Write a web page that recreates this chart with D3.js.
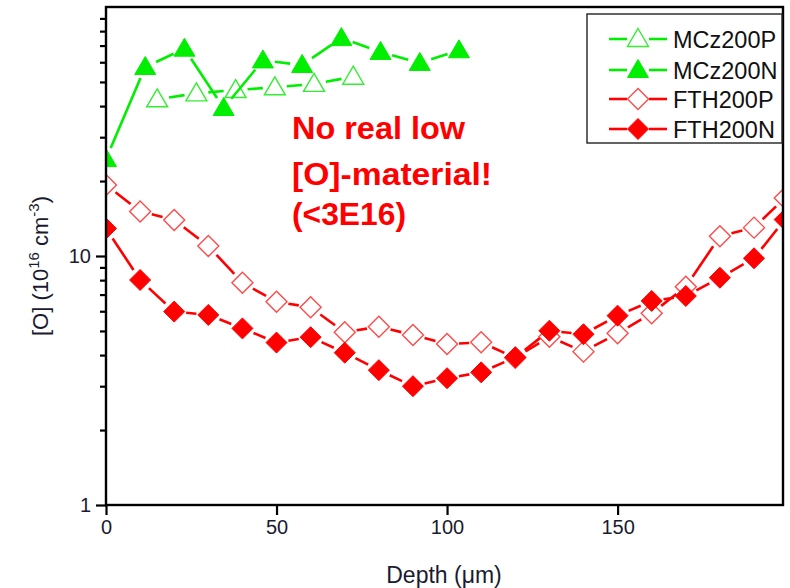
<!DOCTYPE html>
<html>
<head>
<meta charset="utf-8">
<script src="https://cdn.jsdelivr.net/npm/d3@7"></script>
<style>
  body { margin: 0; background: #fff; }
  svg text { font-family: "Liberation Sans", Arial, sans-serif; }
</style>
</head>
<body>
<div id="drawing"></div>
<script>
var chart;
(function (chart) {
    // depth (um) and [O] (1e16 cm^-3)
    var mczPDepth = [15, 26.5, 38, 49.5, 61, 72.5];
    var mczPValue = [42.6, 45, 46.4, 47.6, 49.1, 52.5];
    var mczNDepth = [0, 11.5, 23, 34.5, 46, 57.5, 69, 80.5, 92, 103.5];
    var mczNValue = [24.5, 57.4, 68, 39.3, 61, 58.5, 75, 66, 59.6, 67];
    var fthDepth = [0, 10, 20, 30, 40, 50, 60, 70, 80, 90, 100, 110, 120, 130, 140, 150, 160, 170, 180, 190, 199];
    var fthPValue = [19.3, 15.1, 13.95, 10.97, 7.81, 6.55, 6.22, 4.94, 5.2, 4.82, 4.43, 4.5, 3.9, 4.74, 4.13, 4.89, 5.89, 7.53, 12.0, 13.0, 17.1];
    var fthNValue = [12.9, 8.01, 5.98, 5.8, 5.12, 4.49, 4.72, 4.09, 3.48, 3.0, 3.23, 3.41, 3.92, 5.01, 4.85, 5.76, 6.6, 6.91, 8.18, 9.79, 14.0];
    var seriesNames = ["MCz200P", "MCz200N", "FTH200P", "FTH200N"];
    var xTicks = [0, 50, 100, 150];
    var yTicks = [1, 10];
    var note = ["No real low", "[O]-material!", "(<3E16)"];

    var W = 790, H = 588;
    var left = 106, right = 783, top = 7, bottom = 505;
    var GREEN = "#00ee00", RED = "#ff0000";

    var tri = "M0,-10.5L10.5,7.5L-10.5,7.5Z";
    var dia = "M0,-10.5L10.5,0L0,10.5L-10.5,0Z";

    function zip(xs, ys) {
        return xs.map(function (x, i) { return { x: x, y: ys[i] }; });
    }

    var series = [
        { name: seriesNames[0], pts: zip(mczPDepth, mczPValue), color: GREEN, shape: tri, open: true },
        { name: seriesNames[1], pts: zip(mczNDepth, mczNValue), color: GREEN, shape: tri, open: false },
        { name: seriesNames[2], pts: zip(fthDepth, fthPValue), color: RED, shape: dia, open: true },
        { name: seriesNames[3], pts: zip(fthDepth, fthNValue), color: RED, shape: dia, open: false }
    ];

    var x = d3.scaleLinear().domain([0, 198.5]).range([left, right]);
    var y = d3.scaleLog().domain([1, 100]).range([bottom, top]);

    // line segments stop short of the markers, like Origin draws them
    function gapSegments(pts, gap) {
        var segs = [];
        for (var i = 1; i < pts.length; i++) {
            var x1 = x(pts[i - 1].x), y1 = y(pts[i - 1].y);
            var x2 = x(pts[i].x), y2 = y(pts[i].y);
            var dx = x2 - x1, dy = y2 - y1, d = Math.sqrt(dx * dx + dy * dy);
            if (d <= 2 * gap) continue;
            var ux = dx / d, uy = dy / d;
            segs.push([x1 + ux * gap, y1 + uy * gap, x2 - ux * gap, y2 - uy * gap]);
        }
        return segs;
    }

    function main() {
        var svg = d3.select("#drawing").append("svg")
            .attr("width", W).attr("height", H);

        svg.append("defs").append("clipPath").attr("id", "plotclip")
            .append("rect").attr("x", left).attr("y", top)
            .attr("width", right - left).attr("height", bottom - top);

        var plot = svg.append("g").attr("clip-path", "url(#plotclip)");

        var sg = plot.selectAll(".series").data(series).enter()
            .append("g").attr("class", "series");

        sg.selectAll("line").data(function (s) { return gapSegments(s.pts, 12); })
            .enter().append("line")
            .attr("x1", function (s) { return s[0]; })
            .attr("y1", function (s) { return s[1]; })
            .attr("x2", function (s) { return s[2]; })
            .attr("y2", function (s) { return s[3]; })
            .attr("stroke", function () { return d3.select(this.parentNode).datum().color; })
            .attr("stroke-width", 2.6);

        sg.each(function (s) {
            d3.select(this).selectAll("path").data(s.pts).enter()
                .append("path")
                .attr("d", s.shape)
                .attr("transform", function (p) { return "translate(" + x(p.x) + "," + y(p.y) + ")"; })
                .attr("fill", s.open ? "#fff" : s.color)
                .attr("stroke", s.open ? (s.color === RED ? "#ff4a4a" : "#33ee33") : s.color)
                .attr("stroke-width", s.open ? 1.4 : 1);
        });

        // frame
        svg.append("rect").attr("x", left).attr("y", top)
            .attr("width", right - left).attr("height", bottom - top)
            .attr("fill", "none").attr("stroke", "#000").attr("stroke-width", 2.4);

        // x axis
        var xAxis = d3.axisBottom(x).tickValues(xTicks).tickSize(10).tickPadding(5)
            .tickFormat(d3.format("d"));
        var gx = svg.append("g").attr("transform", "translate(0," + bottom + ")").call(xAxis);
        gx.select(".domain").remove();
        gx.selectAll("line").attr("stroke", "#000").attr("stroke-width", 2.2);
        gx.selectAll("text").attr("font-size", 20).attr("fill", "#1a1a30")
            .attr("font-family", "'Liberation Sans', Arial, sans-serif");

        // y axis, majors plus minor ticks
        var minors = [];
        [1, 10].forEach(function (dec) {
            for (var k = 2; k <= 9; k++) minors.push(dec * k);
        });
        var gyMinor = svg.append("g").attr("transform", "translate(" + left + ",0)")
            .call(d3.axisLeft(y).tickValues(minors).tickSize(6).tickFormat(""));
        gyMinor.select(".domain").remove();
        gyMinor.selectAll("line").attr("stroke", "#000").attr("stroke-width", 2.2);

        var gy = svg.append("g").attr("transform", "translate(" + left + ",0)")
            .call(d3.axisLeft(y).tickValues(yTicks).tickSize(10).tickPadding(5)
                .tickFormat(d3.format("d")));
        gy.select(".domain").remove();
        gy.selectAll("line").attr("stroke", "#000").attr("stroke-width", 2.2);
        gy.selectAll("text").attr("font-size", 20).attr("fill", "#1a1a30")
            .attr("font-family", "'Liberation Sans', Arial, sans-serif");

        // axis titles
        svg.append("text").attr("x", 444).attr("y", 583).attr("text-anchor", "middle")
            .attr("font-size", 23).attr("fill", "#1a1a30").text("Depth (\u03bcm)");

        var yt = svg.append("text").attr("transform", "translate(48,266) rotate(-90)")
            .attr("text-anchor", "middle").attr("font-size", 22).attr("fill", "#1a1a30");
        yt.append("tspan").text("[O] (10");
        yt.append("tspan").attr("dy", -9).attr("font-size", 15).text("16");
        yt.append("tspan").attr("dy", 9).text(" cm");
        yt.append("tspan").attr("dy", -9).attr("font-size", 15).text("-3");
        yt.append("tspan").attr("dy", 9).text(")");

        // annotation
        var noteY = [139, 185, 225], noteW = [173, 200, 114];
        svg.selectAll(".note").data(note).enter().append("text")
            .attr("class", "note")
            .attr("x", 292)
            .attr("y", function (d, i) { return noteY[i]; })
            .attr("textLength", function (d, i) { return noteW[i]; })
            .attr("lengthAdjust", "spacingAndGlyphs")
            .attr("font-family", "'Open Sans', sans-serif")
            .attr("font-weight", "bold").attr("font-size", 32).attr("fill", RED)
            .text(function (d) { return d; });

        // legend
        var lg = svg.append("g");
        lg.append("rect").attr("x", 587).attr("y", 14).attr("width", 195).attr("height", 129)
            .attr("fill", "#fff").attr("stroke", "#222").attr("stroke-width", 1.4);
        var rows = [39, 70, 99, 129];
        var li = lg.selectAll(".li").data(series).enter().append("g")
            .attr("transform", function (d, i) { return "translate(0," + rows[i] + ")"; });
        li.append("line").attr("x1", 609).attr("x2", 627)
            .attr("stroke", function (d) { return d.color; }).attr("stroke-width", 2.6);
        li.append("line").attr("x1", 649).attr("x2", 667)
            .attr("stroke", function (d) { return d.color; }).attr("stroke-width", 2.6);
        li.append("path").attr("d", function (d) { return d.shape; })
            .attr("transform", "translate(638,0)")
            .attr("fill", function (d) { return d.open ? "#fff" : d.color; })
            .attr("stroke", function (d) { return d.open ? (d.color === RED ? "#ff4a4a" : "#33ee33") : d.color; })
            .attr("stroke-width", function (d) { return d.open ? 1.4 : 1; });
        li.append("text").attr("x", 673).attr("y", 8.5)
            .attr("font-size", 23.5).attr("fill", "#111")
            .text(function (d) { return d.name; });
    }
    chart.main = main;
})(chart || (chart = {}));
chart.main();
</script>
</body>
</html>
